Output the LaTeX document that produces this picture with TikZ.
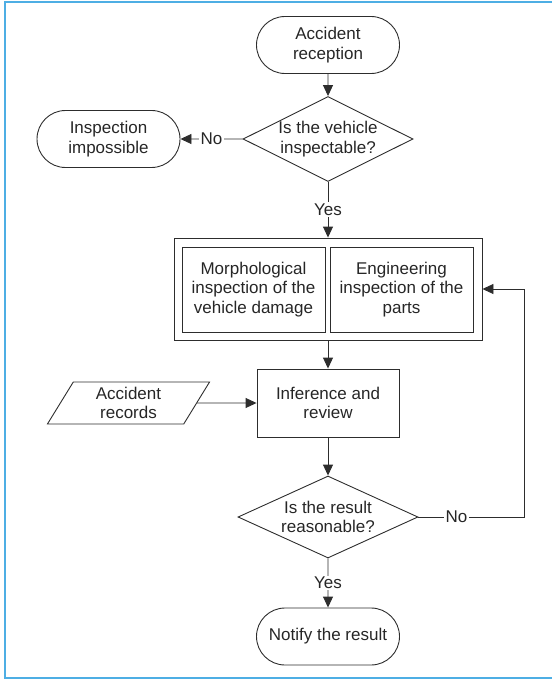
\documentclass[tikz,border=0pt]{standalone}
\usepackage{fontspec}
\setmainfont{Liberation Sans}
\usetikzlibrary{arrows.meta,positioning,shapes.geometric,shapes.misc}
\definecolor{frameblue}{RGB}{78,174,228}
\definecolor{linegray}{RGB}{45,45,45}

\begin{document}
\begin{tikzpicture}[x=1pt,y=-1pt,
		font=\fontsize{17}{19.5}\selectfont,
		every node/.style={align=center,inner sep=0pt,text=black!85},
		line/.style={draw=linegray,line width=0.9pt},
		arr/.style={line,-{Triangle[length=11pt,width=10pt]}},
		terminal/.style={rounded rectangle,line,minimum width=143pt,minimum height=57pt},
		decision/.style={diamond,aspect=2,line},
		box/.style={rectangle,line},
		data/.style={trapezium,trapezium left angle=64.5,trapezium right angle=115.5,
			trapezium stretches=true,line,minimum width=163pt,minimum height=42pt},
		lbl/.style={fill=white,inner sep=1.5pt}]
			\useasboundingbox (0,0) rectangle (552,679);
			% frame, open at the right
			\draw[frameblue,line width=2.2pt] (552,2) -- (5,2) -- (5,678) -- (552,678);

			\node[terminal] (recv) at (328,45) {Accident\\reception};
			\node[decision,minimum width=167pt,minimum height=85pt] (chk) at (328,139) {Is the vehicle\\inspectable?};
			\node[terminal] (imp) at (108.5,139) {Inspection\\impossible};
			\node[box,minimum width=308pt,minimum height=102pt] (insp) at (328,289) {};
			\node[box,minimum width=143pt,minimum height=85pt] (morph) at (253.5,289.5) {Morphological\\inspection of the\\vehicle damage};
			\node[box,minimum width=143pt,minimum height=85pt] (eng) at (401.5,289.5) {Engineering\\inspection of the\\parts};
			\node[box,minimum width=142pt,minimum height=68pt] (infer) at (328,403) {Inference and\\review};
			\node[data] (rec) at (128.5,403) {Accident\\records};
			\node[decision,minimum width=180pt,minimum height=82pt] (res) at (328,517) {Is the result\\reasonable?};
			\node[terminal] (notify) at (328,636.5) {Notify the result};
			\coordinate (back) at (524,517);

			\draw[arr] (recv) -- (chk);
			\draw[arr] (chk) -- node[lbl]{No} (imp);
			\draw[arr] (chk) -- node[lbl]{Yes} (insp);
			\draw[arr] (insp) -- (infer);
			\draw[arr] (rec) -- (infer);
			\draw[arr] (infer) -- (res);
			\draw[arr] (res) -- node[lbl]{Yes} (notify);
			\draw[arr] (res.east) -- node[lbl,pos=0.36]{No} (back) |- (insp.east);
		\end{tikzpicture}
\end{document}
